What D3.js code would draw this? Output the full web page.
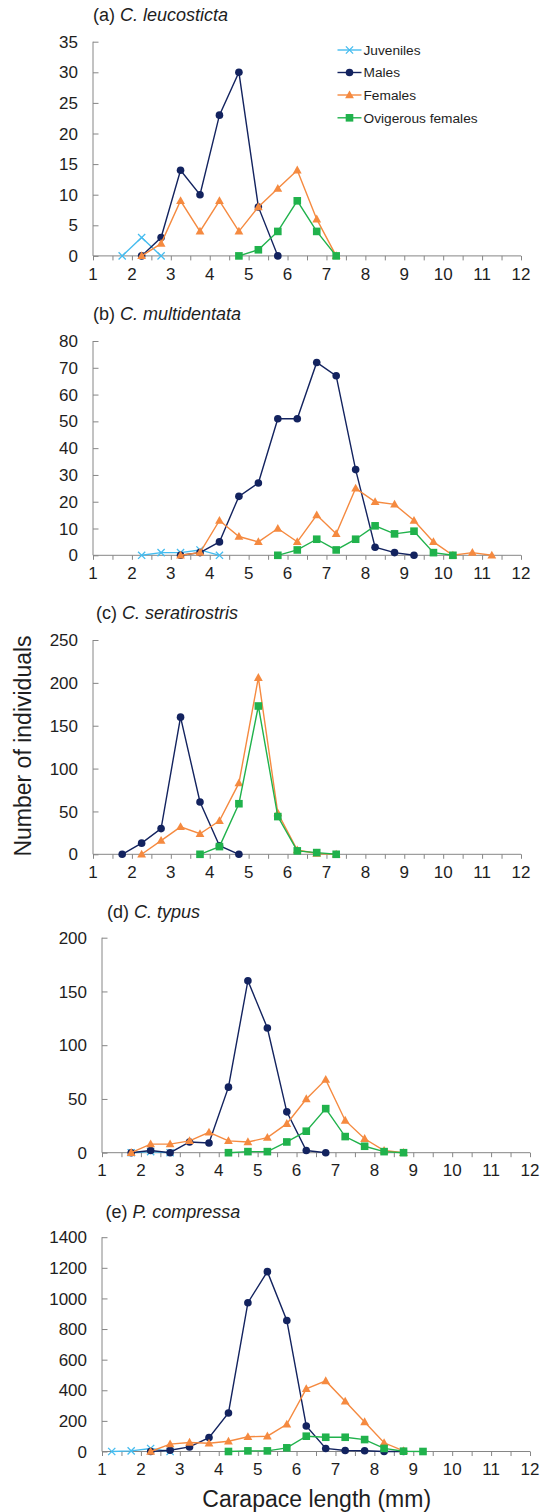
<!DOCTYPE html>
<html>
<head>
<meta charset="utf-8">
<script src="https://cdn.jsdelivr.net/npm/d3@7"></script>
<style>
  body { margin: 0; background: #fff; }
  svg { display: block; }
  text { font-family: Arial, "Liberation Sans", sans-serif; fill: #1e1e1e; }
</style>
</head>
<body>
<svg id="chart" width="543" height="1512"></svg>
<script>
// ---- data: size-frequency of carapace length (class midpoints, mm) ----
const seriesNames = ["Juveniles", "Males", "Females", "Ovigerous females"];
const sizeTicks = [1, 2, 3, 4, 5, 6, 7, 8, 9, 10, 11, 12];

const panelLetters = ["(a)", "(b)", "(c)", "(d)", "(e)"];
const speciesNames = ["C. leucosticta", "C. multidentata", "C. seratirostris", "C. typus", "P. compressa"];
const countMax = [35, 80, 250, 200, 1400];
const countStep = [5, 10, 50, 50, 200];

// (a) C. leucosticta
const leucJuveniles = [[1.75,0],[2.25,3],[2.75,0]];
const leucMales = [[2.25,0],[2.75,3],[3.25,14],[3.75,10],[4.25,23],[4.75,30],[5.25,8],[5.75,0]];
const leucFemales = [[2.25,0],[2.75,2],[3.25,9],[3.75,4],[4.25,9],[4.75,4],[5.25,8],[5.75,11],[6.25,14],[6.75,6],[7.25,0]];
const leucOvigerous = [[4.75,0],[5.25,1],[5.75,4],[6.25,9],[6.75,4],[7.25,0]];

// (b) C. multidentata
const multJuveniles = [[2.25,0],[2.75,1],[3.25,1],[3.75,2],[4.25,0]];
const multMales = [[3.25,0],[3.75,1],[4.25,5],[4.75,22],[5.25,27],[5.75,51],[6.25,51],[6.75,72],[7.25,67],[7.75,32],[8.25,3],[8.75,1],[9.25,0]];
const multFemales = [[3.25,0],[3.75,1],[4.25,13],[4.75,7],[5.25,5],[5.75,10],[6.25,5],[6.75,15],[7.25,8],[7.75,25],[8.25,20],[8.75,19],[9.25,13],[9.75,5],[10.25,0],[10.75,1],[11.25,0]];
const multOvigerous = [[5.75,0],[6.25,2],[6.75,6],[7.25,2],[7.75,6],[8.25,11],[8.75,8],[9.25,9],[9.75,1],[10.25,0]];

// (c) C. seratirostris
const seraJuveniles = [];
const seraMales = [[1.75,0],[2.25,13],[2.75,30],[3.25,160],[3.75,61],[4.25,10],[4.75,0]];
const seraFemales = [[2.25,0],[2.75,16],[3.25,32],[3.75,24],[4.25,39],[4.75,83],[5.25,206],[5.75,48],[6.25,5],[6.75,1],[7.25,0]];
const seraOvigerous = [[3.75,0],[4.25,9],[4.75,59],[5.25,173],[5.75,44],[6.25,4],[6.75,2],[7.25,0]];

// (d) C. typus
const typuJuveniles = [[1.75,0],[2.25,1],[2.75,0]];
const typuMales = [[1.75,0],[2.25,2],[2.75,0],[3.25,10],[3.75,9],[4.25,61],[4.75,160],[5.25,116],[5.75,38],[6.25,2],[6.75,0]];
const typuFemales = [[1.75,0],[2.25,8],[2.75,8],[3.25,11],[3.75,19],[4.25,11],[4.75,10],[5.25,14],[5.75,27],[6.25,50],[6.75,68],[7.25,30],[7.75,13],[8.25,2],[8.75,0]];
const typuOvigerous = [[4.25,0],[4.75,1],[5.25,1],[5.75,10],[6.25,20],[6.75,41],[7.25,15],[7.75,6],[8.25,1],[8.75,0]];

// (e) P. compressa
const compJuveniles = [[1.25,0],[1.75,4],[2.25,20],[2.75,0]];
const compMales = [[2.25,0],[2.75,8],[3.25,30],[3.75,91],[4.25,252],[4.75,972],[5.25,1175],[5.75,856],[6.25,167],[6.75,20],[7.25,7],[7.75,5],[8.25,0],[8.75,0]];
const compFemales = [[2.25,0],[2.75,48],[3.25,59],[3.75,54],[4.25,67],[4.75,96],[5.25,100],[5.75,178],[6.25,409],[6.75,461],[7.25,328],[7.75,193],[8.25,57],[8.75,4]];
const compOvigerous = [[4.25,0],[4.75,4],[5.25,4],[5.75,24],[6.25,100],[6.75,93],[7.25,93],[7.75,78],[8.25,20],[8.75,2],[9.25,0]];

const panelSeries = [
  [leucJuveniles, leucMales, leucFemales, leucOvigerous],
  [multJuveniles, multMales, multFemales, multOvigerous],
  [seraJuveniles, seraMales, seraFemales, seraOvigerous],
  [typuJuveniles, typuMales, typuFemales, typuOvigerous],
  [compJuveniles, compMales, compFemales, compOvigerous]
];

// ---- appearance ----
const seriesColors = ["#45BCEF", "#13235F", "#F58A40", "#20B24C"];
const seriesShapes = ["cross", "circle", "triangle", "square"];
const axisColor = "#868686";

// plot frame of each panel: x range (size 1..12) and y range (0..max)
const frames = [
  { left: 93,  right: 521, top: 41.7,  bottom: 255.9,  titleX: 93,  titleY: 20.5 },
  { left: 93,  right: 521, top: 341,   bottom: 555.3,  titleX: 93,  titleY: 319.5 },
  { left: 93,  right: 521, top: 640,   bottom: 854.3,  titleX: 96,  titleY: 619 },
  { left: 102, right: 530, top: 937.7, bottom: 1152.7, titleX: 107, titleY: 917.5 },
  { left: 102, right: 530, top: 1237.2,bottom: 1451.5, titleX: 105.5, titleY: 1217.5 }
];

const svg = d3.select("#chart");

function drawMarker(g, shape, color) {
  if (shape === "circle") {
    g.append("circle").attr("r", 3.8).attr("fill", color);
  } else if (shape === "square") {
    g.append("rect").attr("x", -3.8).attr("y", -3.8).attr("width", 7.6).attr("height", 7.6).attr("fill", color);
  } else if (shape === "triangle") {
    g.append("path").attr("d", "M0,-4.6L4.4,3.2L-4.4,3.2Z").attr("fill", color);
  } else {
    g.append("path").attr("d", "M-3.6,-3.6L3.6,3.6M-3.6,3.6L3.6,-3.6")
      .attr("stroke", color).attr("stroke-width", 1.3).attr("fill", "none");
  }
}

frames.forEach((f, p) => {
  const x = d3.scaleLinear().domain([1, 12]).range([f.left, f.right]);
  const y = d3.scaleLinear().domain([0, countMax[p]]).range([f.bottom, f.top]);
  const g = svg.append("g");

  // x axis: ticks every half millimetre, labels on whole millimetres
  const xAxis = g.append("g").attr("transform", `translate(0,${f.bottom})`)
    .call(d3.axisBottom(x).tickValues(d3.range(1, 12.01, 0.5)).tickSize(4.5).tickFormat(""));
  xAxis.select(".domain").attr("stroke", axisColor).attr("d", `M${f.left},0H${f.right}`);
  xAxis.selectAll(".tick line").attr("stroke", axisColor);
  g.append("g").selectAll("text").data(sizeTicks).join("text")
    .attr("x", d => x(d)).attr("y", f.bottom + 23.6)
    .attr("text-anchor", "middle").attr("font-size", 17).text(d => d);

  // y axis: inward ticks
  const yTicks = d3.range(0, countMax[p] + 0.001, countStep[p]);
  const yAxis = g.append("g").attr("transform", `translate(${f.left},0)`)
    .call(d3.axisRight(y).tickValues(yTicks).tickSize(5.5).tickFormat(""));
  yAxis.select(".domain").attr("stroke", axisColor).attr("d", `M0,${f.top}V${f.bottom}`);
  yAxis.selectAll(".tick line").attr("stroke", axisColor);
  g.append("g").selectAll("text").data(yTicks).join("text")
    .attr("x", f.left - 15).attr("y", d => y(d)).attr("dy", "0.36em")
    .attr("text-anchor", "end").attr("font-size", 17).text(d => d);

  // title
  const t = g.append("text").attr("x", f.titleX).attr("y", f.titleY).attr("font-size", 18);
  t.append("tspan").text(panelLetters[p] + " ");
  t.append("tspan").attr("font-style", "italic").text(speciesNames[p]);

  // series
  const line = d3.line().x(d => x(d[0])).y(d => y(d[1]));
  panelSeries[p].forEach((data, s) => {
    if (!data.length) return;
    const sg = g.append("g");
    sg.append("path").attr("d", line(data)).attr("fill", "none")
      .attr("stroke", seriesColors[s]).attr("stroke-width", 1.4);
    data.forEach(d => {
      const mg = sg.append("g").attr("transform", `translate(${x(d[0])},${y(d[1])})`);
      drawMarker(mg, seriesShapes[s], seriesColors[s]);
    });
  });

  // legend in the first panel
  if (p === 0) {
    const rows = [50, 72.5, 95, 117.8];
    seriesNames.forEach((name, s) => {
      const lg = g.append("g").attr("transform", `translate(337.5,${rows[s]})`);
      lg.append("line").attr("x1", 0).attr("x2", 24).attr("y1", 0).attr("y2", 0)
        .attr("stroke", seriesColors[s]).attr("stroke-width", 1.4);
      drawMarker(lg.append("g").attr("transform", "translate(12,0)"), seriesShapes[s], seriesColors[s]);
      lg.append("text").attr("x", 26).attr("y", 0).attr("dy", "0.36em")
        .attr("font-size", 13.7).text(name);
    });
  }
});

// shared axis titles
svg.append("text").attr("transform", "translate(30.5,746) rotate(-90)")
  .attr("text-anchor", "middle").attr("font-size", 23).text("Number of individuals");
svg.append("text").attr("x", 316.7).attr("y", 1506.5)
  .attr("text-anchor", "middle").attr("font-size", 23).text("Carapace length (mm)");
</script>
</body>
</html>
